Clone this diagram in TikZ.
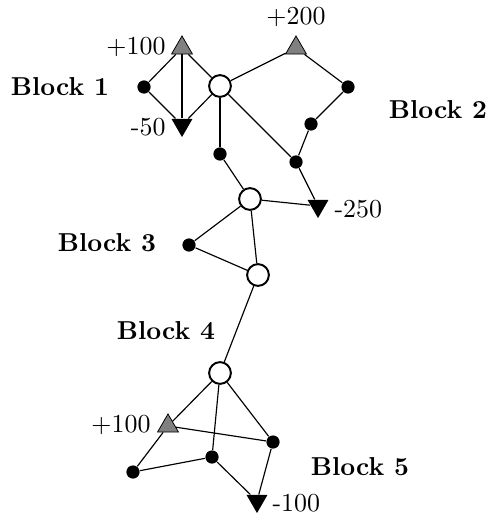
\documentclass[tikz,border=0pt]{standalone}
\usetikzlibrary{shapes.geometric}
\tikzset{
  dot/.style={circle,fill=black,inner sep=0pt,minimum size=5.1pt},
  hub/.style={circle,draw=black,fill=white,line width=0.75pt,inner sep=0pt,minimum size=8.4pt},
  srcup/.style={regular polygon,regular polygon sides=3,fill=gray,draw=black,line width=0.3pt,inner sep=0pt,minimum size=9.3pt},
  sinkdown/.style={regular polygon,regular polygon sides=3,shape border rotate=180,fill=black,inner sep=0pt,minimum size=9.3pt},
  edge/.style={line width=0.45pt},
  lbl/.style={inner sep=0pt,font=\normalsize},
  blk/.style={inner sep=0pt,font=\bfseries}
}
\begin{document}
\begin{tikzpicture}[x=0.386pt,y=-0.386pt]
\useasboundingbox (0,0) rectangle (489,518);
% Block 1
\node[srcup] (t1) at (182,48) {};
\node[dot] (d1) at (144,87) {};
\node[sinkdown] (b1) at (182,125) {};
\node[hub] (c1) at (220,86) {};
\node[dot] (d2) at (220,154) {};
% Block 2
\node[srcup] (t2) at (296,48) {};
\node[dot] (d3) at (348,87) {};
\node[dot] (d4) at (311,124) {};
\node[dot] (d5) at (296,162) {};
\node[sinkdown] (b2) at (318,206) {};
\node[hub] (c2) at (250,199) {};
% Block 3
\node[dot] (d6) at (189,245) {};
\node[hub] (c3) at (258,275) {};
% Block 4/5
\node[hub] (c4) at (220,373) {};
\node[srcup] (t3) at (168,426) {};
\node[dot] (d7) at (273,442) {};
\node[dot] (d8) at (212,457) {};
\node[dot] (d9) at (133,472) {};
\node[sinkdown] (b3) at (257,501) {};
% edges
\begin{scope}[edge]
\draw (t1) -- (d1);
\draw (t1) -- (b1);
\draw (t1) -- (c1);
\draw (d1) -- (b1);
\draw (b1) -- (c1);
\draw (c1) -- (d2);
\draw (c1) -- (t2);
\draw (t2) -- (d3);
\draw (d3) -- (d4);
\draw (d4) -- (d5);
\draw (c1) -- (d5);
\draw (d5) -- (b2);
\draw (c2) -- (b2);
\draw (d2) -- (c2);
\draw (c2) -- (d6);
\draw (d6) -- (c3);
\draw (c2) -- (c3);
\draw (c3) -- (c4);
\draw (c4) -- (t3);
\draw (c4) -- (d8);
\draw (c4) -- (d7);
\draw (t3) -- (d7);
\draw (t3) -- (d9);
\draw (d9) -- (d8);
\draw (d8) -- (b3);
\draw (d7) -- (b3);
\end{scope}
% value labels
\node[lbl,anchor=east] (l1) at (166,47) {+100};
\node[lbl,anchor=east] (l2) at (166,127) {-50};
\node[lbl] (l3) at (296,17) {+200};
\node[lbl,anchor=west] (l4) at (334,209) {-250};
\node[lbl,anchor=east] (l5) at (151,425) {+100};
\node[lbl,anchor=west] (l6) at (272,503) {-100};
% block labels
\node[blk] (B1) at (60,87) {Block 1};
\node[blk] (B2) at (438,110) {Block 2};
\node[blk] (B3) at (107,243) {Block 3};
\node[blk] (B4) at (166,331) {Block 4};
\node[blk] (B5) at (360,467) {Block 5};
\end{tikzpicture}
\end{document}
